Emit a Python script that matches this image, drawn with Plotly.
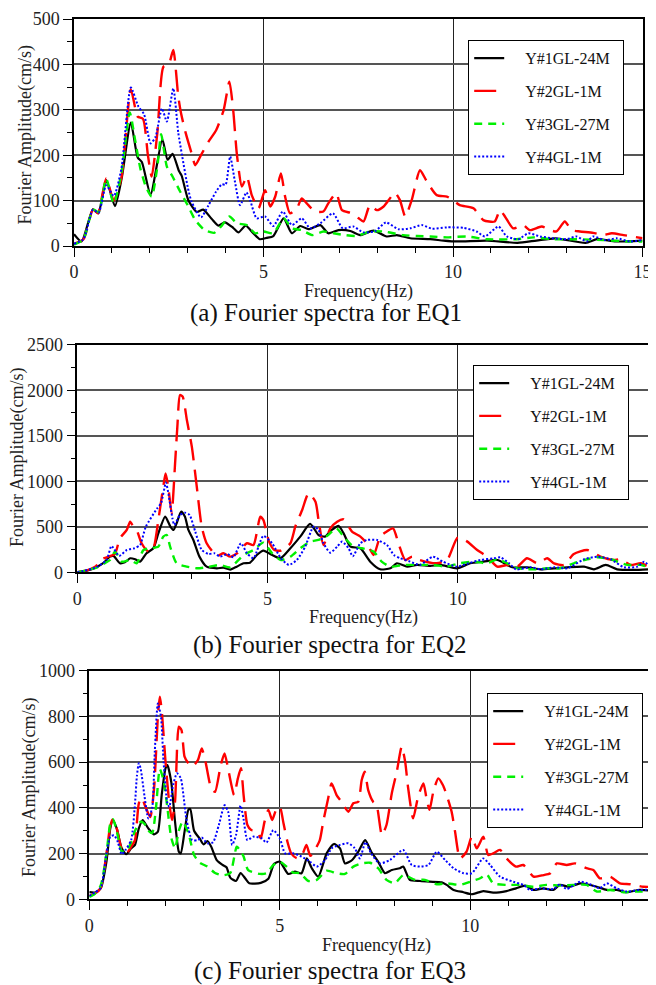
import plotly.graph_objects as go

# ---------------- DATA ----------------
series_names = ["Y#1GL-24M", "Y#2GL-1M", "Y#3GL-27M", "Y#4GL-1M"]
panel_titles = ["(a) Fourier spectra for EQ1", "(b) Fourier spectra for EQ2", "(c) Fourier spectra for EQ3"]
x_title = "Frequency(Hz)"
y_title = "Fourier Amplitude(cm/s)"

# EQ1
eq1_y1_f = [0, 0.2, 0.5, 0.64, 0.85, 1.08, 1.26, 1.5, 1.68, 1.79, 2.02, 2.33, 2.47, 2.6, 2.77, 2.84, 3.02, 3.24, 3.41, 3.63,
            3.81, 3.98, 4.2, 4.34, 4.53, 4.73, 4.9, 5.08, 5.26, 5.53, 5.75, 5.97, 6.19, 6.5, 6.71, 6.98, 7.29, 7.55, 7.9, 8.25,
            8.52, 8.87, 9.4, 9.75, 10.1, 10.9, 11.7, 12.2, 12.7, 13.5, 13.8, 14.3, 15]
eq1_y1_a = [26, 10, 81, 72, 145, 88, 150, 272, 195, 185, 114, 235, 190, 203, 165, 155, 100, 75, 80, 60,
            45, 52, 40, 30, 45, 28, 15, 18, 22, 61, 28, 44, 37, 46, 28, 35, 33, 24, 34, 21,
            24, 17, 15, 12, 10, 12, 7, 12, 17, 7, 15, 10, 12]

eq1_y2_f = [0, 0.25, 0.5, 0.63, 0.85, 1.05, 1.25, 1.5, 1.68, 1.82, 1.95, 2.05, 2.2, 2.36, 2.5, 2.62, 2.75, 2.83, 2.95, 3.1,
            3.2, 3.35, 3.55, 3.75, 3.95, 4.1, 4.2, 4.3, 4.43, 4.56, 4.69, 4.87, 5.04, 5.18, 5.31, 5.46, 5.57, 5.7, 5.88, 6.01,
            6.14, 6.36, 6.58, 6.71, 6.92, 7.07, 7.33, 7.51, 7.64, 7.81, 7.99, 8.17, 8.47, 8.6, 8.74, 8.91, 9.13, 9.31, 9.57, 9.84,
            10.0, 10.18, 10.54, 10.8, 11.1, 11.24, 11.37, 11.59, 11.85, 12.03, 12.34, 12.56, 12.73, 12.95, 13.13, 13.35, 13.7, 13.97, 14.19, 14.5,
            15]
eq1_y2_a = [5, 15, 80, 72, 149, 100, 150, 345, 285, 280, 200, 153, 250, 395, 400, 432, 330, 290, 248, 205,
            178, 200, 230, 255, 300, 362, 300, 200, 131, 153, 112, 83, 123, 87, 109, 160, 109, 72, 83, 105,
            94, 76, 76, 94, 116, 79, 72, 61, 54, 90, 79, 87, 117, 101, 65, 101, 167, 142, 112, 109,
            101, 90, 83, 57, 54, 79, 65, 39, 46, 35, 43, 35, 32, 54, 35, 32, 29, 24, 28, 24,
            17]

eq1_y3_f = [0, 0.25, 0.5, 0.65, 0.85, 1.05, 1.25, 1.47, 1.62, 1.75, 1.9, 2.05, 2.2, 2.3, 2.45, 2.6, 2.8, 3.0, 3.2, 3.45,
            3.7, 3.9, 4.1, 4.3, 4.56, 4.78, 5.0, 5.26, 5.53, 5.75, 6.01, 6.28, 6.58, 6.85, 7.15, 7.46, 7.81, 8.17, 8.43, 8.69,
            9.05, 9.4, 9.84, 10.36, 10.89, 11.68, 12.12, 12.65, 13.26, 13.97, 14.67, 15]
eq1_y3_a = [3, 15, 80, 75, 148, 94, 160, 294, 230, 171, 130, 109, 175, 246, 175, 153, 120, 90, 57, 35,
            29, 45, 65, 50, 46, 28, 32, 28, 61, 39, 35, 24, 32, 28, 24, 22, 32, 32, 28, 24,
            22, 21, 19, 21, 15, 15, 19, 15, 15, 13, 10, 10]

eq1_y4_f = [0, 0.25, 0.5, 0.65, 0.85, 1.05, 1.25, 1.5, 1.7, 1.85, 2.02, 2.15, 2.32, 2.45, 2.62, 2.75, 2.85, 3.0, 3.1, 3.35,
            3.55, 3.75, 3.9, 4.0, 4.12, 4.25, 4.38, 4.55, 4.65, 4.82, 5.04, 5.26, 5.51, 5.75, 6.01, 6.23, 6.5, 6.83, 7.09, 7.37,
            7.63, 7.95, 8.23, 8.56, 8.87, 9.18, 9.45, 9.84, 10.28, 10.62, 10.84, 11.2, 11.42, 11.72, 11.99, 12.3, 12.65, 13.0, 13.26, 13.53,
            13.7, 14.01, 14.32, 14.67, 15]
eq1_y4_a = [5, 15, 80, 73, 134, 110, 170, 349, 307, 290, 226, 240, 303, 274, 347, 250, 200, 130, 98, 63,
            90, 120, 136, 135, 197, 140, 90, 118, 100, 61, 65, 44, 76, 46, 61, 39, 50, 72, 39, 43,
            30, 33, 52, 37, 39, 46, 38, 41, 40, 32, 21, 43, 21, 15, 28, 21, 17, 15, 21, 10,
            21, 13, 17, 10, 13]

# EQ2
eq2_y1_f = [0, 0.25, 0.5, 0.68, 0.86, 0.95, 1.12, 1.25, 1.39, 1.52, 1.65, 1.82, 2.0, 2.13, 2.31, 2.45, 2.53, 2.61, 2.73, 2.83,
            2.92, 3.05, 3.21, 3.4, 3.67, 3.84, 4.02, 4.19, 4.37, 4.54, 4.72, 4.89, 5.12, 5.34, 5.6, 5.86, 6.12, 6.34, 6.51, 6.69,
            6.87, 7.0, 7.18, 7.44, 7.7, 7.96, 8.23, 8.4, 8.67, 8.93, 9.28, 9.54, 9.98, 10.33, 10.68, 11.04, 11.43, 11.82, 12.18, 12.53,
            12.88, 13.32, 13.58, 13.89, 14.19, 14.63, 15]
eq2_y1_a = [0, 18, 55, 100, 172, 180, 100, 110, 154, 143, 117, 209, 264, 428, 611, 500, 465, 538, 666, 611,
            465, 355, 172, 62, 44, 51, 30, 62, 99, 106, 190, 238, 190, 154, 264, 392, 531, 410, 392, 465,
            509, 428, 282, 264, 117, 33, 44, 99, 62, 81, 70, 81, 44, 99, 117, 135, 55, 55, 33, 44,
            55, 62, 33, 81, 33, 26, 33]

eq2_y2_f = [0, 0.25, 0.5, 0.6, 0.86, 0.99, 1.12, 1.3, 1.39, 1.47, 1.56, 1.69, 1.87, 2.0, 2.13, 2.26, 2.32, 2.39, 2.48, 2.57,
            2.63, 2.7, 2.77, 2.88, 3.01, 3.14, 3.27, 3.4, 3.67, 3.84, 4.02, 4.2, 4.46, 4.63, 4.81, 4.89, 5.04, 5.18, 5.35, 5.6,
            5.73, 5.91, 6.08, 6.26, 6.34, 6.47, 6.65, 6.83, 7.0, 7.22, 7.44, 7.61, 7.79, 7.96, 8.1, 8.3, 8.44, 8.62, 8.8, 9.0,
            9.44, 9.72, 10.0, 10.25, 10.51, 10.77, 11.04, 11.3, 11.56, 11.82, 12.09, 12.35, 12.53, 12.79, 13.05, 13.4, 13.75, 14.1, 14.28, 14.54,
            14.81, 15]
eq2_y2_a = [0, 20, 70, 135, 179, 201, 373, 465, 557, 502, 465, 319, 227, 264, 575, 941, 1087, 941, 648, 1197,
            1600, 1948, 1930, 1673, 1380, 941, 502, 319, 179, 209, 172, 209, 319, 300, 611, 575, 337, 245, 238, 319,
            502, 685, 868, 776, 575, 300, 483, 556, 582, 447, 392, 319, 190, 392, 440, 483, 319, 135, 172, 135,
            99, 135, 384, 337, 245, 172, 62, 81, 62, 154, 99, 154, 99, 81, 201, 245, 172, 135, 143, 81,
            99, 62]

eq2_y3_f = [0, 0.5, 0.68, 0.86, 0.99, 1.17, 1.39, 1.56, 1.74, 1.91, 2.13, 2.26, 2.35, 2.44, 2.61, 2.88, 3.14, 3.4, 3.75, 4.02,
            4.37, 4.63, 4.89, 5.12, 5.35, 5.6, 5.86, 6.12, 6.34, 6.56, 6.81, 7.0, 7.26, 7.48, 7.79, 8.0, 8.23, 8.58, 8.93, 9.35,
            9.7, 10.04, 10.42, 10.77, 11.04, 11.3, 11.56, 12.0, 12.35, 12.7, 13.05, 13.4, 13.67, 14.02, 14.46, 14.81, 15]
eq2_y3_a = [0, 50, 92, 135, 227, 117, 135, 99, 245, 264, 282, 392, 410, 282, 99, 62, 44, 55, 81, 55,
            190, 245, 326, 209, 135, 172, 264, 337, 355, 399, 483, 392, 282, 264, 227, 117, 62, 81, 81, 81,
            62, 99, 117, 99, 143, 99, 44, 33, 44, 44, 99, 143, 165, 143, 81, 81, 55]

eq2_y4_f = [0, 0.5, 0.77, 0.9, 1.1, 1.3, 1.5, 1.65, 1.8, 2.1, 2.2, 2.33, 2.4, 2.5, 2.55, 2.7, 2.83, 2.95, 3.1, 3.27,
            3.45, 3.6, 3.75, 3.95, 4.1, 4.3, 4.46, 4.63, 4.89, 5.12, 5.35, 5.56, 5.77, 5.99, 6.21, 6.34, 6.47, 6.65, 6.83, 6.96,
            7.13, 7.24, 7.44, 7.61, 7.88, 8.14, 8.32, 8.49, 8.75, 9.0, 9.35, 9.61, 9.98, 10.28, 10.6, 10.95, 11.12, 11.35, 11.53, 11.91,
            12.18, 12.53, 12.88, 13.32, 13.67, 14.02, 14.37, 14.72, 14.9, 15]
eq2_y4_a = [0, 55, 135, 289, 180, 245, 264, 300, 500, 703, 758, 985, 850, 593, 520, 630, 655, 630, 447, 245,
            201, 209, 172, 201, 165, 319, 209, 154, 399, 319, 154, 81, 135, 282, 502, 465, 319, 216, 282, 337,
            264, 175, 319, 355, 355, 300, 190, 154, 117, 81, 172, 117, 62, 99, 135, 154, 165, 99, 33, 55,
            33, 55, 44, 143, 172, 143, 55, 62, 117, 81]

# EQ3
eq3_y1_f = [0, 0.15, 0.3, 0.45, 0.55, 0.62, 0.72, 0.85, 0.97, 1.1, 1.2, 1.3, 1.4, 1.55, 1.7, 1.8, 1.9, 2.0, 2.05, 2.15,
            2.25, 2.35, 2.4, 2.5, 2.6, 2.65, 2.75, 2.9, 3.0, 3.1, 3.2, 3.35, 3.5, 3.6, 3.7, 3.85, 3.97, 4.1, 4.2, 4.5,
            4.7, 4.85, 5.0, 5.22, 5.4, 5.57, 5.71, 5.84, 6.01, 6.23, 6.42, 6.58, 6.71, 6.9, 7.06, 7.24, 7.4, 7.58, 7.76, 7.94,
            8.15, 8.24, 8.41, 8.68, 8.93, 9.25, 9.38, 9.56, 9.82, 10.04, 10.34, 10.6, 10.95, 11.2, 11.44, 11.66, 11.92, 12.18, 12.35, 12.6,
            12.88, 13.05, 13.32, 13.58, 13.84, 14.1, 14.45, 14.87]
eq3_y1_a = [31, 30, 48, 165, 310, 347, 310, 223, 197, 223, 238, 310, 347, 310, 284, 296, 456, 573, 587, 514,
            340, 208, 201, 296, 391, 395, 300, 265, 240, 255, 230, 170, 150, 140, 95, 80, 115, 90, 70, 72,
            90, 155, 165, 111, 121, 114, 179, 136, 99, 201, 242, 223, 157, 172, 208, 259, 208, 165, 114, 128,
            136, 143, 85, 80, 77, 74, 63, 41, 31, 22, 36, 29, 36, 48, 60, 41, 48, 41, 63, 55,
            70, 66, 55, 41, 41, 31, 41, 36]

eq3_y2_f = [0, 0.15, 0.3, 0.45, 0.55, 0.62, 0.72, 0.85, 0.97, 1.1, 1.2, 1.3, 1.38, 1.45, 1.6, 1.7, 1.8, 1.85, 1.9, 2.0,
            2.1, 2.17, 2.25, 2.35, 2.42, 2.5, 2.6, 2.7, 2.85, 2.95, 3.05, 3.2, 3.3, 3.45, 3.55, 3.65, 3.8, 3.9, 3.98, 4.05,
            4.15, 4.25, 4.4, 4.5, 4.6, 4.7, 4.8, 4.9, 5.0, 5.1, 5.2, 5.3, 5.45, 5.6, 5.7, 5.8, 5.9, 6.05, 6.14, 6.27,
            6.36, 6.49, 6.62, 6.8, 6.93, 7.06, 7.15, 7.23, 7.32, 7.45, 7.54, 7.68, 7.8, 7.94, 8.07, 8.2, 8.29, 8.37, 8.5, 8.63,
            8.77, 8.85, 8.93, 9.03, 9.16, 9.28, 9.38, 9.51, 9.6, 9.73, 9.9, 10.04, 10.17, 10.34, 10.47, 10.6, 10.78, 10.95, 11.2, 11.39,
            11.66, 11.92, 12.1, 12.27, 12.53, 12.75, 13.05, 13.23, 13.4, 13.67, 13.93, 14.2, 14.54, 14.87]
eq3_y2_a = [15, 25, 50, 200, 320, 350, 310, 220, 200, 230, 260, 420, 445, 415, 360, 485, 800, 886, 828, 602,
            420, 347, 427, 755, 740, 624, 595, 580, 609, 660, 602, 485, 470, 587, 638, 565, 456, 529, 573, 456,
            325, 303, 300, 267, 340, 391, 347, 390, 405, 330, 252, 201, 180, 200, 238, 190, 210, 259, 340, 442,
            507, 456, 427, 383, 420, 427, 522, 558, 478, 427, 413, 281, 325, 464, 558, 668, 602, 485, 354, 449,
            507, 442, 391, 471, 529, 500, 456, 383, 296, 179, 208, 274, 223, 274, 194, 201, 216, 179, 143, 150,
            99, 106, 114, 157, 150, 157, 136, 128, 92, 99, 70, 66, 55, 55]

eq3_y3_f = [0, 0.15, 0.3, 0.45, 0.55, 0.62, 0.72, 0.85, 0.97, 1.1, 1.2, 1.35, 1.45, 1.55, 1.65, 1.75, 1.85, 1.95, 2.05, 2.15,
            2.25, 2.35, 2.45, 2.6, 2.75, 2.9, 3.1, 3.3, 3.5, 3.7, 3.87, 3.95, 4.05, 4.17, 4.48, 4.65, 4.83, 5.0, 5.18, 5.35,
            5.53, 5.75, 5.97, 6.23, 6.49, 6.71, 6.93, 7.15, 7.37, 7.58, 7.8, 8.02, 8.24, 8.55, 8.81, 9.12, 9.38, 9.73, 10.0, 10.26,
            10.43, 10.6, 10.95, 11.3, 11.66, 12.0, 12.35, 12.7, 13.05, 13.32, 13.67, 14.02, 14.37, 14.87]
eq3_y3_a = [10, 25, 60, 200, 330, 350, 300, 210, 210, 250, 300, 340, 330, 300, 290, 400, 570, 520, 400, 270,
            223, 300, 340, 290, 194, 160, 143, 115, 105, 115, 230, 216, 187, 128, 111, 114, 150, 165, 143, 117,
            114, 80, 85, 125, 114, 111, 143, 157, 160, 136, 85, 70, 106, 85, 85, 66, 70, 63, 77, 92,
            109, 70, 63, 63, 55, 63, 60, 63, 63, 34, 41, 31, 34, 31]

eq3_y4_f = [0, 0.15, 0.3, 0.45, 0.55, 0.65, 0.75, 0.85, 0.95, 1.1, 1.2, 1.25, 1.3, 1.35, 1.45, 1.55, 1.65, 1.72, 1.8, 1.88,
            1.95, 2.05, 2.1, 2.2, 2.3, 2.4, 2.55, 2.7, 2.85, 2.95, 3.1, 3.25, 3.4, 3.55, 3.65, 3.75, 3.85, 3.97, 4.05, 4.15,
            4.3, 4.52, 4.65, 4.83, 5.0, 5.14, 5.35, 5.57, 5.79, 5.97, 6.19, 6.36, 6.58, 6.8, 6.97, 7.1, 7.25, 7.4, 7.62, 7.89,
            8.24, 8.46, 8.68, 8.9, 9.12, 9.34, 9.56, 9.82, 10.04, 10.34, 10.52, 10.78, 11.13, 11.39, 11.57, 11.83, 12.18, 12.35, 12.53, 12.88,
            13.14, 13.4, 13.58, 13.84, 14.1, 14.45, 14.87]
eq3_y4_a = [15, 30, 50, 200, 274, 280, 250, 197, 215, 260, 420, 540, 595, 570, 450, 354, 400, 650, 857, 800,
            600, 420, 405, 500, 551, 530, 350, 259, 260, 270, 245, 250, 325, 412, 380, 238, 280, 410, 350, 259,
            274, 267, 248, 303, 267, 201, 201, 187, 165, 143, 172, 223, 238, 245, 223, 179, 250, 200, 157, 172,
            216, 150, 143, 150, 208, 172, 136, 114, 114, 179, 150, 99, 77, 63, 41, 48, 45, 66, 45, 77,
            66, 48, 70, 48, 34, 41, 41]

y_ranges = [[0, 500], [0, 2500], [0, 1000]]
y_dticks = [100, 500, 200]
y_minor = [50, 250, 100]

# ---------------- STYLE / LAYOUT ----------------
PAGE_W, PAGE_H = 656, 985
OFF = 8  # the page body has an 8px margin, so the figure starts at (8, 8)
W, H = PAGE_W - OFF, PAGE_H - OFF
FONT = "Liberation Serif, Times New Roman, Times, serif"


def fx(px):  # page pixel x -> paper fraction
    return (px - OFF) / W


def fy(py):  # page pixel y -> paper fraction
    return 1 - (py - OFF) / H


styles = [
    dict(color="#000000", width=2.2, dash="solid"),
    dict(color="#FF0000", width=2.4, dash="22px,9px"),
    dict(color="#00F000", width=2.4, dash="8px,6px"),
    dict(color="#0000FF", width=2.0, dash="2px,2px"),
]
# page pixel boxes of the three plot areas: (left, right, top, bottom)
boxes = [(74, 642.5, 19, 246), (77.3, 648, 344.7, 572.3), (89.3, 656, 670.7, 899.3)]
x_ranges = [[0, 15], [0, 15], [0, (656 - 89.3) / 38.1]]
legend_pos = [(468, 40), (473, 365), (487, 693)]
xtitle_pos = [(358, 292), (363, 617), (376, 945)]
ptitle_pos = [(326, 313), (330, 645), (330, 971)]
ytitle_pos = [(24.5, 135), (18, 458), (29, 788)]

panels = [
    [(eq1_y1_f, eq1_y1_a), (eq1_y2_f, eq1_y2_a), (eq1_y3_f, eq1_y3_a), (eq1_y4_f, eq1_y4_a)],
    [(eq2_y1_f, eq2_y1_a), (eq2_y2_f, eq2_y2_a), (eq2_y3_f, eq2_y3_a), (eq2_y4_f, eq2_y4_a)],
    [(eq3_y1_f, eq3_y1_a), (eq3_y2_f, eq3_y2_a), (eq3_y3_f, eq3_y3_a), (eq3_y4_f, eq3_y4_a)],
]

fig = go.Figure()
layout = dict(width=W, height=H, margin=dict(l=0, r=0, t=0, b=0, pad=0, autoexpand=False), autosize=False,
              paper_bgcolor="white", plot_bgcolor="white", showlegend=True,
              font=dict(family=FONT, color="#000"))
annotations = []
pad = "&nbsp;" * 4

for p in range(3):
    l, r, t, b = boxes[p]
    xa = "xaxis" if p == 0 else f"xaxis{p+1}"
    ya = "yaxis" if p == 0 else f"yaxis{p+1}"
    xref = "x" if p == 0 else f"x{p+1}"
    yref = "y" if p == 0 else f"y{p+1}"
    leg = "legend" if p == 0 else f"legend{p+1}"
    for s in range(4):
        f, a = panels[p][s]
        assert len(f) == len(a), (p, s, len(f), len(a))
        st = styles[s]
        fig.add_trace(go.Scatter(
            x=f, y=a, mode="lines", name=pad + series_names[s] + "&nbsp;&nbsp;",
            line=dict(color=st["color"], width=st["width"], dash=st["dash"], shape="spline", smoothing=0.6),
            xaxis=xref, yaxis=yref, legend=leg, legendgroup=f"p{p}s{s}", hoverinfo="skip"))
    layout[xa] = dict(domain=[fx(l), min(fx(r), 1.0)], range=x_ranges[p], anchor=yref, automargin=False,
                      dtick=5, tick0=0, showline=True, linecolor="black", linewidth=1.5, mirror=True,
                      ticks="outside", ticklen=9, tickwidth=1.2, tickcolor="black",
                      showgrid=True, gridcolor="#222", gridwidth=1, zeroline=False,
                      minor=dict(dtick=1, tick0=0, ticks="outside", ticklen=5, tickcolor="black", showgrid=False),
                      tickfont=dict(family=FONT, size=18, color="#222"), fixedrange=True)
    layout[ya] = dict(domain=[fy(b), fy(t)], range=y_ranges[p], anchor=xref, automargin=False,
                      dtick=y_dticks[p], tick0=0, showline=True, linecolor="black", linewidth=1.5,
                      mirror=(p != 2),
                      ticks="outside", ticklen=9, tickwidth=1.2, tickcolor="black",
                      showgrid=True, gridcolor="#555", gridwidth=1.6, zeroline=False,
                      minor=dict(dtick=y_minor[p], tick0=0, ticks="outside", ticklen=5, tickcolor="black", showgrid=False),
                      tickfont=dict(family=FONT, size=18, color="#222"), fixedrange=True)
    lx, ly = legend_pos[p]
    layout[leg] = dict(x=fx(lx), y=fy(ly), xanchor="left", yanchor="top",
                       bordercolor="black", borderwidth=1.2, bgcolor="white",
                       font=dict(family=FONT, size=16, color="#111"), tracegroupgap=9)
    tx, ty = xtitle_pos[p]
    annotations.append(dict(text=x_title, x=fx(tx), y=fy(ty), xref="paper", yref="paper",
                            showarrow=False, xanchor="center", yanchor="middle",
                            font=dict(family=FONT, size=18, color="#222")))
    px_, py_ = ptitle_pos[p]
    annotations.append(dict(text=panel_titles[p], x=fx(px_), y=fy(py_), xref="paper", yref="paper",
                            showarrow=False, xanchor="center", yanchor="middle",
                            font=dict(family=FONT, size=25, color="#111")))
    yx, yy = ytitle_pos[p]
    annotations.append(dict(text=y_title, x=fx(yx), y=fy(yy), xref="paper", yref="paper",
                            showarrow=False, xanchor="center", yanchor="middle", textangle=-90,
                            font=dict(family=FONT, size=18, color="#222")))

# partially visible "15" tick label of the last panel (cut by the image edge)
annotations.append(dict(text="15", x=fx(89.3 + 15 * 38.1), y=fy(922), xref="paper", yref="paper",
                        showarrow=False, xanchor="center", yanchor="middle",
                        font=dict(family=FONT, size=18, color="#222")))
layout["annotations"] = annotations
fig.update_layout(**layout)
fig.write_html("out.html")
